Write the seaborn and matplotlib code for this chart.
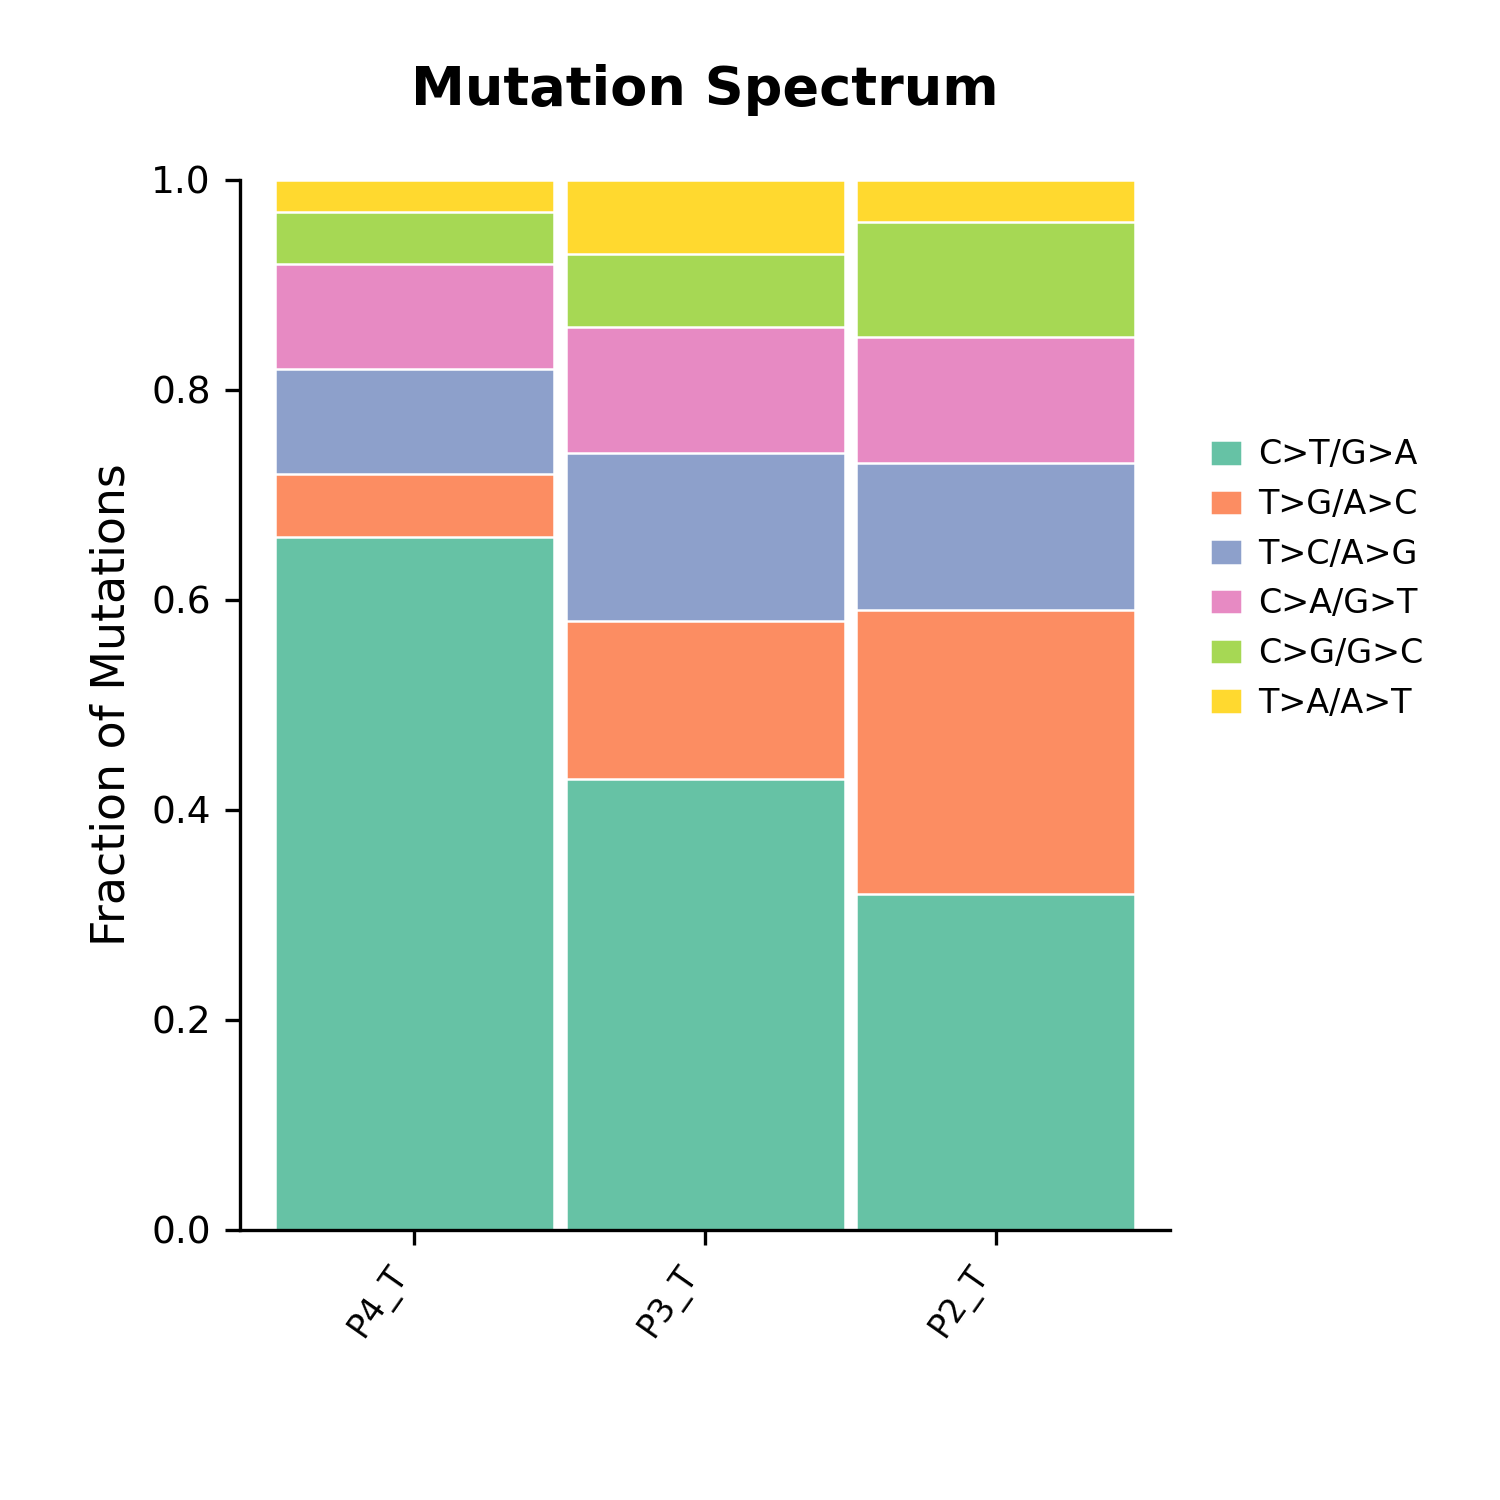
import numpy as np
import pandas as pd
import matplotlib
matplotlib.use("Agg")
import matplotlib.pyplot as plt
import seaborn as sns

samples = ["P4_T", "P3_T", "P2_T"]
mut_types = ["C>T/G>A", "T>G/A>C", "T>C/A>G", "C>A/G>T", "C>G/G>C", "T>A/A>T"]

ct_ga = [0.66, 0.43, 0.32]
tg_ac = [0.06, 0.15, 0.27]
tc_ag = [0.10, 0.16, 0.14]
ca_gt = [0.10, 0.12, 0.12]
cg_gc = [0.05, 0.07, 0.11]
ta_at = [0.03, 0.07, 0.04]

fractions = np.array([ct_ga, tg_ac, tc_ag, ca_gt, cg_gc, ta_at])
cumulative = fractions.cumsum(axis=0)

sns.set_style("ticks", {"text.color": "black", "axes.labelcolor": "black",
                        "xtick.color": "black", "ytick.color": "black",
                        "axes.edgecolor": "black"})
colors = sns.color_palette("Set2", len(mut_types))

fig, ax = plt.subplots(figsize=(5, 5), dpi=300)
fig.subplots_adjust(left=0.16, right=0.78, top=0.88, bottom=0.18)

# draw from the top of the stack downwards so each segment shows
for i in range(len(mut_types) - 1, -1, -1):
    df = pd.DataFrame({"Sample": samples, "Fraction": cumulative[i]})
    sns.barplot(data=df, x="Sample", y="Fraction", color=colors[i],
                width=0.96, edgecolor="white", linewidth=0.6,
                saturation=1, ax=ax, label=mut_types[i])

ax.set_xlim(-0.6, 2.6)
ax.set_ylim(0, 1.0)
ax.set_yticks([0, 0.2, 0.4, 0.6, 0.8, 1.0])
ax.tick_params(axis="y", labelsize=9)
ax.tick_params(axis="x", labelsize=8)
plt.setp(ax.get_xticklabels(), rotation=55, ha="right")
ax.set_xlabel("")
ax.set_ylabel("Fraction of Mutations", fontsize=11)
ax.set_title("Mutation Spectrum", fontsize=13, fontweight="bold", pad=18)
sns.despine(ax=ax)

handles, labels = ax.get_legend_handles_labels()
ax.legend(handles[::-1], labels[::-1], loc="center left",
          bbox_to_anchor=(1.011, 0.62), frameon=False, fontsize=8,
          handlelength=0.95, handleheight=0.8, handletextpad=0.5)

fig.savefig("out.png", dpi=300)
